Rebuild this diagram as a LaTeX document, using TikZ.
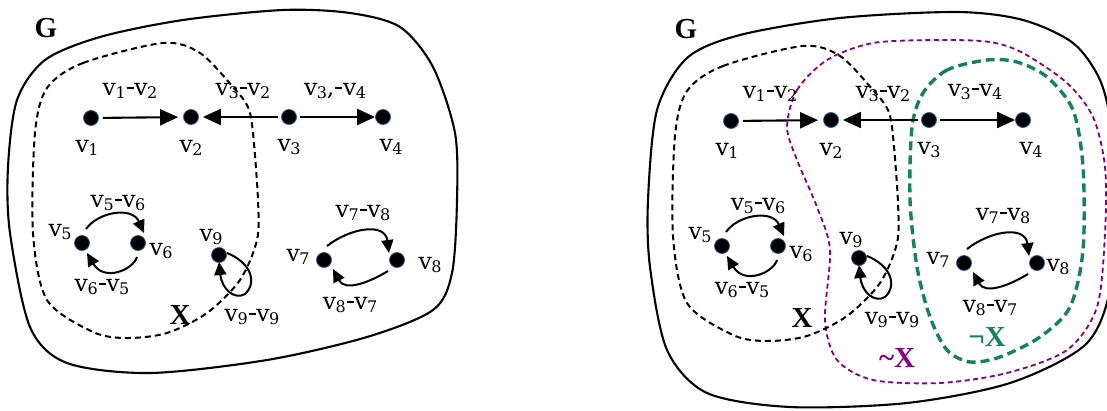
\documentclass[tikz,border=0pt]{standalone}
\usepackage{fontspec}
\setmainfont{DejaVu Serif}
\newfontfamily\tms{Liberation Serif}
\usetikzlibrary{arrows.meta,calc}
\definecolor{dotedge}{RGB}{50,90,150}
\definecolor{setpurple}{RGB}{128,0,128}
\definecolor{setgreen}{RGB}{22,128,100}
\newcommand\vs[1]{v\kern-0.5pt\raisebox{-0.3ex}{\fontsize{16}{16}\selectfont #1}}
\newcommand\dsh{\kern0.8pt\rule[0.25em]{7pt}{2.2pt}\kern0.8pt}
\newcommand\vpair[2]{\vs{#1}\dsh\vs{#2}}
\tikzset{
  dot/.style={circle,fill=black,draw=dotedge,line width=0.8pt,minimum size=15pt,inner sep=0pt},
  lab/.style={font=\fontsize{23.5}{26}\selectfont,inner sep=0pt},
  big/.style={font=\tms\bfseries\fontsize{29}{30}\selectfont,inner sep=0pt},
  sarr/.style={line width=2.1pt,-{Triangle[length=18pt,width=16pt]}},
  carr/.style={line width=2pt,-{Triangle[length=13pt,width=12pt]}},
  outline/.style={line width=2.1pt},
  xset/.style={line width=2pt,dash pattern=on 6pt off 4pt},
  nxset/.style={line width=1.8pt,dash pattern=on 5pt off 3.5pt,draw=setpurple},
  gxset/.style={line width=3.4pt,dash pattern=on 9pt off 5pt,draw=setgreen},
}
\newcommand\graphpanel[1]{%
  \node[dot] (#1v1) at (91,118) {};
  \node[dot] (#1v2) at (191,117) {};
  \node[dot] (#1v3) at (289,117) {};
  \node[dot] (#1v4) at (383,117) {};
  \node[dot] (#1v5) at (82,243) {};
  \node[dot] (#1v6) at (138,243) {};
  \node[dot] (#1v9) at (219,255) {};
  \node[dot] (#1v7) at (324,260) {};
  \node[dot] (#1v8) at (397,260) {};
  \draw[sarr,shorten <=4pt,shorten >=5pt] (#1v1) -- (#1v2);
  \draw[sarr,shorten <=3pt,shorten >=4pt] (#1v3) -- (#1v2);
  \draw[sarr,shorten <=3pt,shorten >=0pt] (#1v3) -- (#1v4);
  \draw[carr] ($(#1v5)+(4,-14)$) .. controls ($(#1v5)+(16,-31)$) and ($(#1v6)+(-6,-37)$) .. ($(#1v6)+(6,-10)$);
  \draw[carr] ($(#1v6)+(-1,14)$) .. controls ($(#1v6)+(-5,27)$) and ($(#1v5)+(22,39)$) .. ($(#1v5)+(5,10)$);
  \draw[carr] ($(#1v7)+(3,-14)$) .. controls ($(#1v7)+(26,-32)$) and ($(#1v8)+(-12,-38)$) .. ($(#1v8)+(-8,-7)$);
  \draw[carr] ($(#1v8)+(-9,11)$) .. controls ($(#1v8)+(-27,22)$) and ($(#1v7)+(21,32)$) .. ($(#1v7)+(9,9)$);
  \draw[carr] ($(#1v9)+(8,-2)$) .. controls ($(#1v9)+(31,7)$) and ($(#1v9)+(39,27)$) .. ($(#1v9)+(26,39)$)
     .. controls ($(#1v9)+(16,45)$) and ($(#1v9)+(3,35)$) .. ($(#1v9)+(0,7)$);
  \draw[xset] plot[smooth cycle] coordinates {(47,88) (83,63) (163,43) (200,53) (233,87) (248,107) (253,133) (258,200) (257,240) (240,280) (207,313) (167,333) (127,338) (93,332) (47,300) (33,233) (35,133)};
  \node[lab] (#1l1) at (87,148) {\vs{1}};
  \node[lab] (#1l2) at (191,148) {\vs{2}};
  \node[lab] (#1l3) at (289,147) {\vs{3}};
  \node[lab] (#1l4) at (391,147) {\vs{4}};
  \node[lab] (#1e12) at (130,91) {\vpair{1}{2}};
  \node[lab] (#1e32) at (243,91) {\vpair{3}{2}};
  \node[lab] (#1l5) at (60,232) {\vs{5}};
  \node[lab] (#1l6) at (161,251) {\vs{6}};
  \node[lab] (#1e56) at (118,203) {\vpair{5}{6}};
  \node[lab] (#1e65) at (102,287) {\vpair{6}{5}};
  \node[lab] (#1l9) at (211,237) {\vs{9}};
  \node[lab] (#1e99) at (252,317) {\vpair{9}{9}};
  \node[lab] (#1l7) at (298,257) {\vs{7}};
  \node[lab] (#1e78) at (363,213) {\vpair{7}{8}};
  \node[lab] (#1e87) at (350,305) {\vpair{8}{7}};
}
\begin{document}
\begin{tikzpicture}[x=1pt,y=-1pt]
\useasboundingbox (0,0) rectangle (1107,410);
\clip (0,0) rectangle (1107,410);
% left panel
\draw[outline] plot[smooth cycle] coordinates {(45,60) (100,37) (183,20) (283,10) (350,13) (400,27) (433,67) (455,133) (457,200) (452,273) (433,310) (367,337) (267,360) (150,373) (67,363) (30,327) (10,233) (8,167) (17,100)};
\node[big] (gA) at (46,28) {G};
\graphpanel{a}
\node[lab] (ae34) at (335,91) {\vs{3},\dsh\vs{4}};
\node[lab] (al8) at (430,265) {\vs{8}};
\node[big] (xA) at (180,315) {X};
% right panel
\draw[outline] plot[smooth cycle] coordinates {(687,58) (740,35) (840,18) (957,12) (1023,20) (1073,43) (1100,80) (1112,130) (1116,200) (1110,290) (1085,345) (1010,383) (907,403) (790,407) (707,393) (667,350) (650,267) (648,200) (657,110)};
\node[big] (gB) at (686,29) {G};
\draw[nxset] plot[smooth cycle] coordinates {(787,127) (797,90) (827,60) (873,43) (940,40) (990,42) (1023,53) (1067,83) (1093,117) (1105,167) (1105,233) (1097,307) (1067,350) (1007,373) (940,383) (873,380) (837,360) (825,320) (830,250) (817,207) (797,160)};
\draw[gxset] plot[smooth cycle] coordinates {(987,60) (947,70) (923,93) (912,127) (910,200) (917,267) (930,317) (947,350) (970,362) (1000,357) (1040,337) (1070,307) (1083,250) (1083,167) (1073,110) (1047,77) (1017,62)};
\begin{scope}[shift={(640,3)}]
\graphpanel{b}
\node[lab] (be34) at (335,89) {\vpair{3}{4}};
\node[lab] (bl8) at (418,264) {\vs{8}};
\node[big] (xB) at (162,315) {X};
\end{scope}
\node[big,text=setgreen] (ngX) at (987,337) {¬X};
\node[big,text=setpurple] (ntX) at (897,358) {\symbol{126}X};
\end{tikzpicture}
\end{document}
